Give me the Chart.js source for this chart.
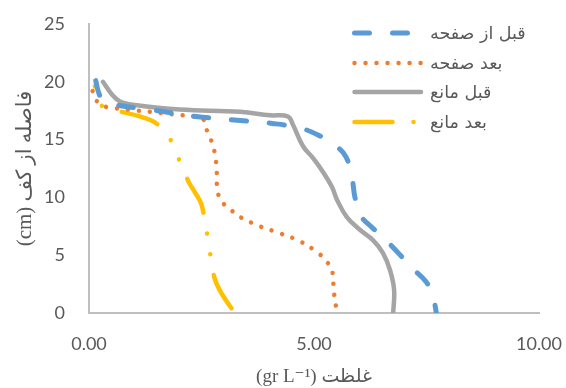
<!DOCTYPE html>
<html>
<head>
<meta charset="utf-8">
<script src="https://cdn.jsdelivr.net/npm/chart.js@4.4.1/dist/chart.umd.min.js"></script>
<style>
  html, body { margin: 0; padding: 0; background: #ffffff; }
  #wrap { width: 566px; height: 388px; position: relative; }
</style>
</head>
<body>
<div id="wrap"><canvas id="chart" width="566" height="388"></canvas></div>
<script>
// Series names (legend order)
const seriesNames = ['قبل از صفحه', 'بعد صفحه', 'قبل مانع', 'بعد مانع'];

// Concentration (gr L-1) versus height above the floor (cm) for each series
const beforePlateX = [0.15, 0.22, 0.33, 0.58, 1.36, 2.38, 3.22, 4.07, 4.69, 5.09, 5.47, 5.71, 5.84, 5.91, 6.02, 6.29, 6.60, 6.87, 7.18, 7.49, 7.64, 7.72];
const beforePlateY = [20.1, 19.0, 18.3, 18.0, 17.6, 17.0, 16.7, 16.4, 16.0, 15.4, 14.5, 13.5, 11.8, 10.0, 8.5, 7.4, 6.3, 5.2, 3.9, 2.7, 1.5, 0];

const afterPlateX = [0.08, 0.18, 0.40, 0.62, 0.87, 1.84, 2.31, 2.53, 2.62, 2.71, 2.78, 2.82, 2.84, 2.84, 2.86, 2.98, 3.16, 3.36, 3.80, 4.24, 4.69, 5.09, 5.27, 5.40, 5.44, 5.51];
const afterPlateY = [19.2, 18.3, 17.8, 17.7, 17.6, 17.2, 17.0, 16.8, 15.8, 15.0, 14.1, 13.2, 12.2, 11.2, 10.4, 9.5, 8.9, 8.3, 7.5, 6.9, 6.2, 5.2, 4.5, 3.7, 1.9, 0];

const beforeBarrierX = [0.31, 0.51, 0.69, 1.02, 2.02, 3.36, 4.02, 4.42, 4.53, 4.76, 4.98, 5.20, 5.40, 5.51, 5.73, 6.02, 6.31, 6.53, 6.69, 6.78, 6.76];
const beforeBarrierY = [20.0, 18.9, 18.3, 18.0, 17.6, 17.4, 17.1, 17.0, 16.3, 14.4, 13.4, 12.2, 10.9, 9.8, 8.3, 7.2, 6.3, 5.2, 3.7, 2.0, 0];

const afterBarrierX = [0.13, 0.29, 0.73, 1.13, 1.53, 1.84, 2.02, 2.22, 2.36, 2.49, 2.56, 2.64, 2.71, 2.80, 2.96, 3.24];
const afterBarrierY = [19.6, 17.9, 17.4, 17.0, 16.3, 14.8, 13.1, 11.3, 10.4, 9.5, 8.3, 6.5, 4.7, 2.9, 1.6, 0];

// Axis tick values
const xTicks = [0, 5, 10];
const yTicks = [0, 5, 10, 15, 20, 25];

const toPoints = (xs, ys) => xs.map((x, i) => ({ x: x, y: ys[i] }));

const TEXT = '#595959';
const TICK_FONT = "Lato, 'Open Sans', sans-serif";
const TITLE_FONT = "'Liberation Serif', 'DejaVu Sans', serif";

// Legend drawn as line samples with the text to their right
const lineLegend = {
  id: 'lineLegend',
  afterDraw(chart) {
    const ctx = chart.ctx;
    const rowY = [33, 63, 92, 122];
    chart.data.datasets.forEach((ds, i) => {
      const y = rowY[i];
      ctx.save();
      ctx.strokeStyle = ds.borderColor;
      ctx.lineWidth = ds.borderWidth;
      ctx.lineCap = ds.borderCapStyle || 'butt';
      ctx.setLineDash(ds.borderDash || []);
      ctx.lineDashOffset = 0;
      ctx.beginPath();
      ctx.moveTo(354.5, y);
      ctx.lineTo(421, y);
      ctx.stroke();
      ctx.restore();

      ctx.save();
      ctx.fillStyle = TEXT;
      ctx.font = "17.5px 'DejaVu Sans', sans-serif";
      ctx.textAlign = 'left';
      ctx.textBaseline = 'middle';
      ctx.fillText(ds.label, 430, y + 1);
      ctx.restore();
    });
  }
};

new Chart(document.getElementById('chart'), {
  type: 'scatter',
  data: {
    datasets: [
      {
        label: seriesNames[0],
        data: toPoints(beforePlateX, beforePlateY),
        borderColor: '#5B9BD5',
        borderWidth: 5,
        borderDash: [15, 23],
        borderCapStyle: 'round'
      },
      {
        label: seriesNames[1],
        data: toPoints(afterPlateX, afterPlateY),
        borderColor: '#ED7D31',
        borderWidth: 4.5,
        borderDash: [0.01, 11],
        borderCapStyle: 'round'
      },
      {
        label: seriesNames[2],
        data: toPoints(beforeBarrierX, beforeBarrierY),
        borderColor: '#A5A5A5',
        borderWidth: 4.5,
        borderCapStyle: 'round'
      },
      {
        label: seriesNames[3],
        data: toPoints(afterBarrierX, afterBarrierY),
        borderColor: '#FFC000',
        borderWidth: 4.5,
        borderDash: [38, 21, 0.01, 21, 0.01, 21],
        borderDashOffset: 59,
        borderCapStyle: 'round'
      }
    ].map(ds => Object.assign({
      showLine: true,
      fill: false,
      pointRadius: 0,
      pointHoverRadius: 0,
      tension: 0.4,
      borderJoinStyle: 'round'
    }, ds))
  },
  options: {
    responsive: false,
    animation: false,
    events: [],
    layout: { padding: { left: 0, right: 27, top: 24, bottom: 0 } },
    plugins: {
      legend: { display: false },
      tooltip: { enabled: false }
    },
    scales: {
      x: {
        type: 'linear',
        min: 0,
        max: 10,
        afterFit(scale) {
          scale.height = 75;
          scale.paddingLeft = 0;
          scale.paddingRight = 0;
        },
        afterBuildTicks(scale) { scale.ticks = xTicks.map(v => ({ value: v })); },
        grid: { display: false, drawTicks: false },
        border: { display: true, color: '#BFBFBF', width: 2 },
        ticks: {
          padding: 20,
          color: TEXT,
          font: { family: TICK_FONT, size: 18 },
          maxRotation: 0,
          callback: v => Number(v).toFixed(2)
        },
        title: {
          display: true,
          text: '(gr L⁻¹) غلظت',
          color: TEXT,
          font: { family: TITLE_FONT, size: 19 },
          padding: { top: 0, bottom: 0 }
        }
      },
      y: {
        type: 'linear',
        min: 0,
        max: 25,
        afterFit(scale) {
          scale.width = 89;
          scale.paddingTop = 0;
          scale.paddingBottom = 0;
        },
        afterBuildTicks(scale) { scale.ticks = yTicks.map(v => ({ value: v })); },
        grid: { display: false, drawTicks: false },
        border: { display: true, color: '#BFBFBF', width: 2 },
        ticks: {
          padding: 24,
          color: TEXT,
          font: { family: TICK_FONT, size: 18 }
        },
        title: {
          display: true,
          text: '(cm) فاصله از کف',
          color: TEXT,
          font: { family: TITLE_FONT, size: 21 },
          padding: { top: 13, bottom: 0 }
        }
      }
    }
  },
  plugins: [lineLegend]
});
</script>
</body>
</html>
